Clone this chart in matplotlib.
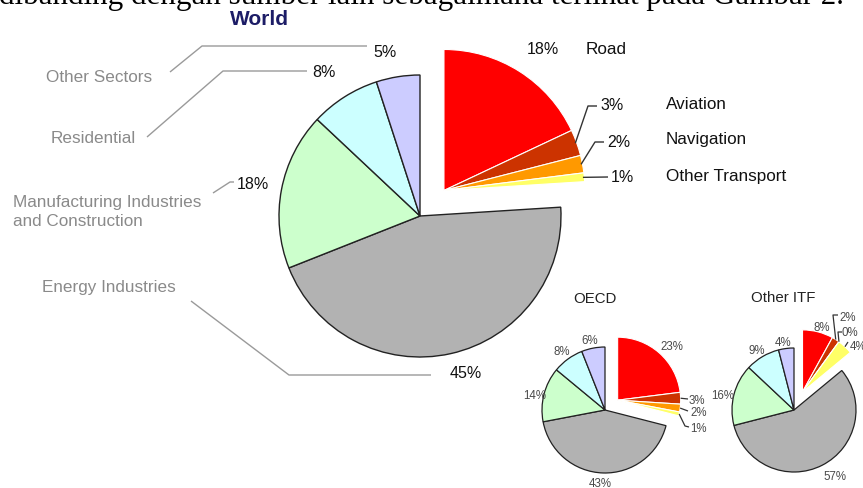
import numpy as np
import matplotlib.pyplot as plt

plt.rcParams['font.family'] = ['Liberation Sans', 'DejaVu Sans']

# data
transport = ['Road', 'Aviation', 'Navigation', 'Other Transport']
sectors = ['Energy Industries', 'Manufacturing Industries\nand Construction',
           'Residential', 'Other Sectors']

world_transport = [18, 3, 2, 1]
world_sectors = [45, 18, 8, 5]
oecd_transport = [23, 3, 2, 1]
oecd_sectors = [43, 14, 8, 6]
itf_transport = [8, 2, 0, 4]
itf_sectors = [57, 16, 9, 4]

transport_colors = ['#ff0000', '#cc3300', '#ff9900', '#ffff66']
sector_colors = ['#b2b2b2', '#ccffcc', '#ccffff', '#ccccff']

caption = 'dibanding dengan sumber lain sebagaimana terlihat pada Gambar 2.'

W, H = 863, 489
fig = plt.figure(figsize=(W / 100, H / 100), dpi=100)
ax = fig.add_axes([0, 0, 1, 1])


def P(x, y):
    # pixel coords (top-left origin) -> data coords
    return (x, H - y)


def draw_pie(center, r, shift, tvals, svals, lw):
    vals = list(tvals) + list(svals)
    wedges, _ = ax.pie(vals, colors=transport_colors + sector_colors,
                       startangle=90, counterclock=False, center=P(*center),
                       radius=r, frame=True)
    n = len(tvals)
    mid = np.radians((wedges[n - 1].theta1 + wedges[0].theta2) / 2)
    dx, dy = shift * np.cos(mid), shift * np.sin(mid)
    for i, w in enumerate(wedges):
        if i < n:
            cx, cy = w.center
            w.set_center((cx + dx, cy + dy))
            w.set_edgecolor('white')
            w.set_linewidth(0.8)
        else:
            w.set_edgecolor('#222222')
            w.set_linewidth(lw)
    return wedges


def wedge_pt(w, rr=1.0):
    a = np.radians((w.theta1 + w.theta2) / 2)
    cx, cy = w.center
    return (cx + rr * w.r * np.cos(a), cy + rr * w.r * np.sin(a))


def leader(start, pts, color, lw=1.0):
    xs = [start[0]] + [P(*p)[0] for p in pts]
    ys = [start[1]] + [P(*p)[1] for p in pts]
    ax.plot(xs, ys, color=color, lw=lw, solid_capstyle='butt')


def label(x, y, s, size, color, ha='left', **kw):
    ax.text(*P(x, y), s, fontsize=size, color=color, ha=ha, va='center', **kw)


# ---- World ----
ww = draw_pie((420, 217), 141, 35, world_transport, world_sectors, 1.0)
label(259, 20, 'World', 15, '#1c1c66', ha='center', fontweight='bold')

label(527, 50, f'{world_transport[0]}%', 11.5, '#111111')
leader(wedge_pt(ww[1], 0.99), [(588, 107), (597, 107)], '#333333')
label(600, 106, f'{world_transport[1]}%', 11.5, '#111111')
leader(wedge_pt(ww[2], 0.99), [(595, 143), (604, 143)], '#333333')
label(607, 143, f'{world_transport[2]}%', 11.5, '#111111')
leader(wedge_pt(ww[3], 0.99), [(608, 178)], '#333333')
label(611, 178, f'{world_transport[3]}%', 11.5, '#111111')

label(586, 50, transport[0], 12.3, '#111111')
label(666, 105, transport[1], 12.3, '#111111')
label(666, 140, transport[2], 12.3, '#111111')
label(666, 177, transport[3], 12.3, '#111111')

grey = '#8a8a8a'
label(46, 78, sectors[3], 12.3, grey)
label(51, 139, sectors[2], 12.3, grey)
label(13, 212, sectors[1], 12.3, grey, linespacing=1.3)
label(42, 288, sectors[0], 12.3, grey)

leader(P(170, 73), [(202, 47), (367, 47)], '#9a9a9a')
leader(P(147, 138), [(223, 72), (307, 72)], '#9a9a9a')
leader(P(213, 194), [(230, 183), (234, 183)], '#9a9a9a')
leader(P(191, 302), [(289, 376), (431, 376)], '#9a9a9a')

label(373, 53, f'{world_sectors[3]}%', 11.5, '#111111')
label(312, 73, f'{world_sectors[2]}%', 11.5, '#111111')
label(237, 185, f'{world_sectors[1]}%', 11.5, '#111111')
label(450, 374, f'{world_sectors[0]}%', 11.5, '#111111')

# ---- OECD ----
small = '#4a4a4a'
ow = draw_pie((605, 411), 63, 16, oecd_transport, oecd_sectors, 0.9)
label(595, 299, 'OECD', 10.8, '#222222', ha='center')
label(672, 347, f'{oecd_transport[0]}%', 8.3, small, ha='center')
leader(wedge_pt(ow[1], 1.0), [(688, 400)], '#333333', 0.9)
label(689, 401, f'{oecd_transport[1]}%', 8.3, small)
leader(wedge_pt(ow[2], 1.0), [(688, 412)], '#333333', 0.9)
label(690, 413, f'{oecd_transport[2]}%', 8.3, small)
leader(wedge_pt(ow[3], 1.0), [(685, 427), (689, 428)], '#333333', 0.9)
label(690, 429, f'{oecd_transport[3]}%', 8.3, small)
label(600, 484, f'{oecd_sectors[0]}%', 8.3, small, ha='center')
label(535, 396, f'{oecd_sectors[1]}%', 8.3, small, ha='center')
label(562, 352, f'{oecd_sectors[2]}%', 8.3, small, ha='center')
label(590, 341, f'{oecd_sectors[3]}%', 8.3, small, ha='center')

# ---- Other ITF ----
iw = draw_pie((794, 411), 62, 20, itf_transport, itf_sectors, 0.9)
label(783, 298, 'Other ITF', 10.8, '#222222', ha='center')
label(822, 328, f'{itf_transport[0]}%', 8.3, small, ha='center')
leader(wedge_pt(iw[1], 1.0), [(833, 316), (838, 316)], '#333333', 0.9)
label(839, 318, f'{itf_transport[1]}%', 8.3, small)
leader(wedge_pt(iw[2], 1.0), [(838, 333), (842, 333)], '#333333', 0.9)
label(842, 333, f'{itf_transport[2]}%', 8.3, small)
leader(wedge_pt(iw[3], 1.0), [(848, 343)], '#333333', 0.9)
label(850, 347, f'{itf_transport[3]}%', 8.3, small)
label(835, 477, f'{itf_sectors[0]}%', 8.3, small, ha='center')
label(723, 396, f'{itf_sectors[1]}%', 8.3, small, ha='center')
label(757, 351, f'{itf_sectors[2]}%', 8.3, small, ha='center')
label(783, 343, f'{itf_sectors[3]}%', 8.3, small, ha='center')

# cropped caption line at the very top (from the source document)
cap = ax.text(*P(-1, 4), caption, fontsize=20, family='Liberation Serif',
              color='black', ha='left', va='baseline')
fig.canvas.draw()
bb = cap.get_window_extent(fig.canvas.get_renderer())
cap.set_fontsize(20 * 846 / bb.width)

ax.set_xlim(0, W)
ax.set_ylim(0, H)
ax.set_aspect('equal')
ax.axis('off')

fig.savefig('out.png', dpi=100)
